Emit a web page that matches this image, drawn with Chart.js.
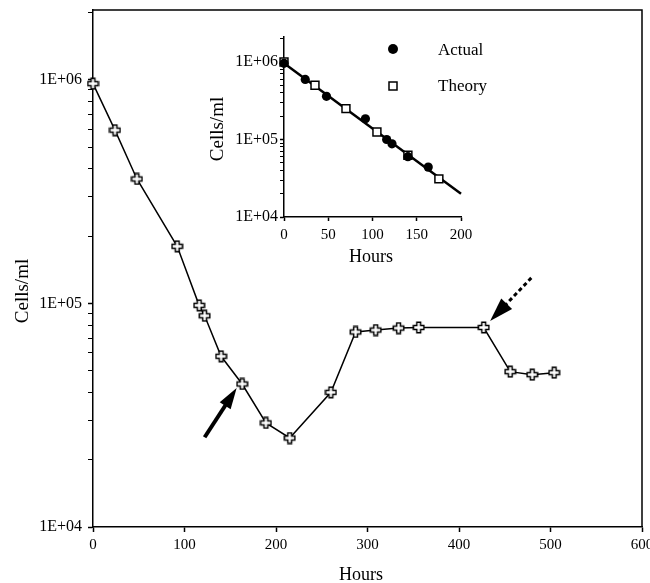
<!DOCTYPE html>
<html><head><meta charset="utf-8">
<script src="https://cdn.jsdelivr.net/npm/chart.js@4.4.1/dist/chart.umd.min.js"></script>
<style>
html,body{margin:0;padding:0;background:#fff;overflow:hidden}
#wrap{position:relative;width:650px;height:583px;overflow:hidden;background:#fff}
#main{position:absolute;left:0;top:0}
#inset{position:absolute;left:200px;top:20px}
</style></head><body>
<div id="wrap">
<canvas id="main" width="650" height="583"></canvas>
<canvas id="inset" width="300" height="260"></canvas>
</div>
<script>
// ---- data ----
const hours = [0, 24, 48, 92, 116, 122, 140, 163, 189, 215, 260, 287, 309, 334, 356, 427, 456, 480, 504];
const cells = [9.6e5, 5.95e5, 3.6e5, 1.8e5, 9.8e4, 8.8e4, 5.8e4, 4.36e4, 2.92e4, 2.5e4, 4.0e4, 7.45e4, 7.6e4, 7.75e4, 7.8e4, 7.8e4, 4.95e4, 4.8e4, 4.9e4];
const mainXTicks = [0, 100, 200, 300, 400, 500, 600];
const yTickValues = [1e4, 1e5, 1e6];
const yTickLabels = ['1E+04', '1E+05', '1E+06'];

const actualHours = [0, 24, 48, 92, 116, 122, 140, 163];
const actualCells = [9.6e5, 5.95e5, 3.6e5, 1.85e5, 1.0e5, 8.8e4, 6.0e4, 4.4e4];
const theoryHours = [0, 35, 70, 105, 140, 175];
const theoryCells = [1e6, 5e5, 2.5e5, 1.25e5, 6.25e4, 3.1e4];
const fitHours = [0, 200];
const fitCells = [9.6e5, 2.0e4];
const insetXTicks = [0, 50, 100, 150, 200];

// arrow annotations in data coordinates [hours, cells]
const solidArrow = {from: [122, 2.52e4], to: [157, 4.18e4]};
const dashedArrow = {from: [479, 1.3e5], to: [434, 8.33e4]};

// ---- helpers ----
const SERIF = '"Liberation Serif","Times New Roman","DejaVu Serif",serif';
Chart.defaults.font.family = SERIF;
Chart.defaults.color = '#000';
Chart.defaults.animation = false;

function isMinorLogValue(v) {
  const e = Math.floor(Math.log10(v) + 1e-9);
  const m = v / Math.pow(10, e);
  return Math.abs(m - Math.round(m)) < 1e-6 && Math.round(m) >= 1 && Math.round(m) <= 9;
}
function logLabel(v) {
  const i = yTickValues.findIndex(t => Math.abs(t - v) / t < 1e-6);
  return i >= 0 ? yTickLabels[i] : '';
}
function isMajor(v) { return yTickValues.some(t => Math.abs(t - v) / t < 1e-6); }

const plusImg = (() => {
  const c = document.createElement('canvas');
  c.width = 13; c.height = 13;
  const g = c.getContext('2d');
  const cx = 6.5, cy = 6.5, s = 5.2, a = 1.9;
  g.beginPath();
  g.moveTo(cx - a, cy - s); g.lineTo(cx + a, cy - s); g.lineTo(cx + a, cy - a);
  g.lineTo(cx + s, cy - a); g.lineTo(cx + s, cy + a); g.lineTo(cx + a, cy + a);
  g.lineTo(cx + a, cy + s); g.lineTo(cx - a, cy + s); g.lineTo(cx - a, cy + a);
  g.lineTo(cx - s, cy + a); g.lineTo(cx - s, cy - a); g.lineTo(cx - a, cy - a);
  g.closePath();
  g.fillStyle = '#fff'; g.fill();
  g.lineWidth = 1.5; g.strokeStyle = '#000'; g.stroke();
  return c;
})();

function drawArrow(ctx, chart, arr, opts) {
  const xs = chart.scales.x, ys = chart.scales.y;
  const x0 = xs.getPixelForValue(arr.from[0]), y0 = ys.getPixelForValue(arr.from[1]);
  const x1 = xs.getPixelForValue(arr.to[0]), y1 = ys.getPixelForValue(arr.to[1]);
  const ang = Math.atan2(y1 - y0, x1 - x0);
  const ux = Math.cos(ang), uy = Math.sin(ang);
  const bx = x1 - ux * opts.headLen, by = y1 - uy * opts.headLen;
  ctx.save();
  ctx.strokeStyle = '#000'; ctx.fillStyle = '#000';
  ctx.lineWidth = opts.width; ctx.lineCap = 'butt';
  if (opts.dash) ctx.setLineDash(opts.dash);
  ctx.beginPath(); ctx.moveTo(x0, y0); ctx.lineTo(bx + ux * 2, by + uy * 2); ctx.stroke();
  ctx.setLineDash([]);
  const hw = opts.headWidth / 2;
  ctx.beginPath();
  ctx.moveTo(x1, y1);
  ctx.lineTo(bx - uy * hw, by + ux * hw);
  ctx.lineTo(bx + uy * hw, by - ux * hw);
  ctx.closePath(); ctx.fill();
  ctx.restore();
}

function drawText(ctx, text, x, y, size, rot) {
  ctx.save();
  ctx.font = size + 'px ' + SERIF;
  ctx.fillStyle = '#000';
  ctx.textAlign = 'center'; ctx.textBaseline = 'middle';
  ctx.translate(x, y);
  if (rot) ctx.rotate(rot);
  ctx.fillText(text, 0, 0);
  ctx.restore();
}

// ---- main chart ----
const mainDecor = {
  id: 'mainDecor',
  afterDraw(chart) {
    const ctx = chart.ctx, a = chart.chartArea;
    ctx.save();
    ctx.strokeStyle = '#000'; ctx.lineWidth = 1.5;
    ctx.beginPath(); ctx.moveTo(a.left, a.top); ctx.lineTo(a.right, a.top); ctx.lineTo(a.right, a.bottom); ctx.stroke();
    ctx.restore();
    drawArrow(ctx, chart, solidArrow, {width: 4, headLen: 21, headWidth: 13});
    drawArrow(ctx, chart, dashedArrow, {width: 3, headLen: 24, headWidth: 15, dash: [4, 3]});
    drawText(ctx, chart.options.scales.y.title.text, 23, 291, 19, -Math.PI / 2);
    drawText(ctx, chart.options.scales.x.title.text, 361, 575, 18, 0);
  }
};

new Chart(document.getElementById('main'), {
  type: 'line',
  data: {
    datasets: [{
      label: 'Cells/ml',
      data: hours.map((h, i) => ({x: h, y: cells[i]})),
      borderColor: '#000', borderWidth: 1.5,
      pointStyle: plusImg, pointRadius: 6,
      tension: 0, clip: false
    }]
  },
  options: {
    responsive: false,
    layout: {padding: {left: 0, top: 10, right: 8, bottom: 0}},
    plugins: {legend: {display: false}, tooltip: {enabled: false}},
    scales: {
      x: {
        type: 'linear', min: 0, max: 600,
        border: {display: true, color: '#000', width: 1.5},
        grid: {display: true, drawOnChartArea: false, drawTicks: true, tickLength: 5, tickColor: '#000', tickWidth: 1.5},
        ticks: {padding: 4, font: {size: 15}, maxRotation: 0, autoSkip: false},
        title: {display: false, text: 'Hours'},
        afterBuildTicks: s => { s.ticks = mainXTicks.map(v => ({value: v})); },
        afterFit: s => { s.height = 56; s.paddingLeft = 0; s.paddingRight = 0; }
      },
      y: {
        type: 'logarithmic', min: 1e4, max: 2.05e6,
        border: {display: true, color: '#000', width: 1.5},
        grid: {display: true, drawOnChartArea: false, drawTicks: true, tickLength: 5, tickColor: '#000',
               tickWidth: c => (c.tick && isMajor(c.tick.value)) ? 1.5 : 1},
        ticks: {padding: 6, font: {size: 16}, autoSkip: false, callback: v => logLabel(v)},
        title: {display: false, text: 'Cells/ml'},
        afterBuildTicks: s => { s.ticks = s.ticks.filter(t => isMinorLogValue(t.value)); },
        afterFit: s => { s.width = 93; s.paddingTop = 0; s.paddingBottom = 0; }
      }
    }
  },
  plugins: [mainDecor]
});

// ---- inset chart ----
const insetDecor = {
  id: 'insetDecor',
  afterDraw(chart) {
    const ctx = chart.ctx;
    const ds = chart.data.datasets;
    // legend
    ctx.save();
    ctx.fillStyle = '#000';
    ctx.beginPath(); ctx.arc(193, 29, 5, 0, Math.PI * 2); ctx.fill();
    ctx.lineWidth = 1.5; ctx.strokeStyle = '#000'; ctx.fillStyle = '#fff';
    ctx.fillRect(189, 62, 8, 8); ctx.strokeRect(189, 62, 8, 8);
    ctx.restore();
    ctx.save();
    ctx.font = '17px ' + SERIF; ctx.fillStyle = '#000';
    ctx.textAlign = 'left'; ctx.textBaseline = 'middle';
    ctx.fillText(ds[0].label, 238, 31);
    ctx.fillText(ds[1].label, 238, 67);
    ctx.restore();
    drawText(ctx, chart.options.scales.y.title.text, 18, 109, 19, -Math.PI / 2);
    drawText(ctx, chart.options.scales.x.title.text, 171, 237, 18, 0);
  }
};

new Chart(document.getElementById('inset'), {
  type: 'line',
  data: {
    datasets: [
      {label: 'Actual', data: actualHours.map((h, i) => ({x: h, y: actualCells[i]})),
       showLine: false, pointStyle: 'circle', pointRadius: 4.6, backgroundColor: '#000', borderColor: '#000', borderWidth: 0, order: 0, clip: false},
      {label: 'Theory', data: theoryHours.map((h, i) => ({x: h, y: theoryCells[i]})),
       showLine: false, pointStyle: 'rect', pointRadius: 5.6, backgroundColor: '#fff', borderColor: '#000', borderWidth: 1.5, order: 1, clip: false},
      {label: 'Fit', data: fitHours.map((h, i) => ({x: h, y: fitCells[i]})),
       borderColor: '#000', borderWidth: 2.5, pointRadius: 0, order: 2, clip: false}
    ]
  },
  options: {
    responsive: false,
    layout: {padding: {left: 0, top: 17, right: 39, bottom: 0}},
    plugins: {legend: {display: false}, tooltip: {enabled: false}},
    scales: {
      x: {
        type: 'linear', min: 0, max: 200,
        border: {display: true, color: '#000', width: 1.5},
        grid: {display: true, drawOnChartArea: false, drawTicks: true, tickLength: 4, tickColor: '#000', tickWidth: 1.5},
        ticks: {padding: 5, font: {size: 15}, maxRotation: 0, autoSkip: false},
        title: {display: false, text: 'Hours'},
        afterBuildTicks: s => { s.ticks = insetXTicks.map(v => ({value: v})); },
        afterFit: s => { s.height = 63; s.paddingLeft = 0; s.paddingRight = 0; }
      },
      y: {
        type: 'logarithmic', min: 1e4, max: 2.1e6,
        border: {display: true, color: '#000', width: 1.5},
        grid: {display: true, drawOnChartArea: false, drawTicks: true, tickLength: 4, tickColor: '#000',
               tickWidth: c => (c.tick && isMajor(c.tick.value)) ? 1.5 : 1},
        ticks: {padding: 2, font: {size: 16}, autoSkip: false, callback: v => logLabel(v)},
        title: {display: false, text: 'Cells/ml'},
        afterBuildTicks: s => { s.ticks = s.ticks.filter(t => isMinorLogValue(t.value)); },
        afterFit: s => { s.width = 84; s.paddingTop = 0; s.paddingBottom = 0; }
      }
    }
  },
  plugins: [insetDecor]
});
</script>
</body></html>
